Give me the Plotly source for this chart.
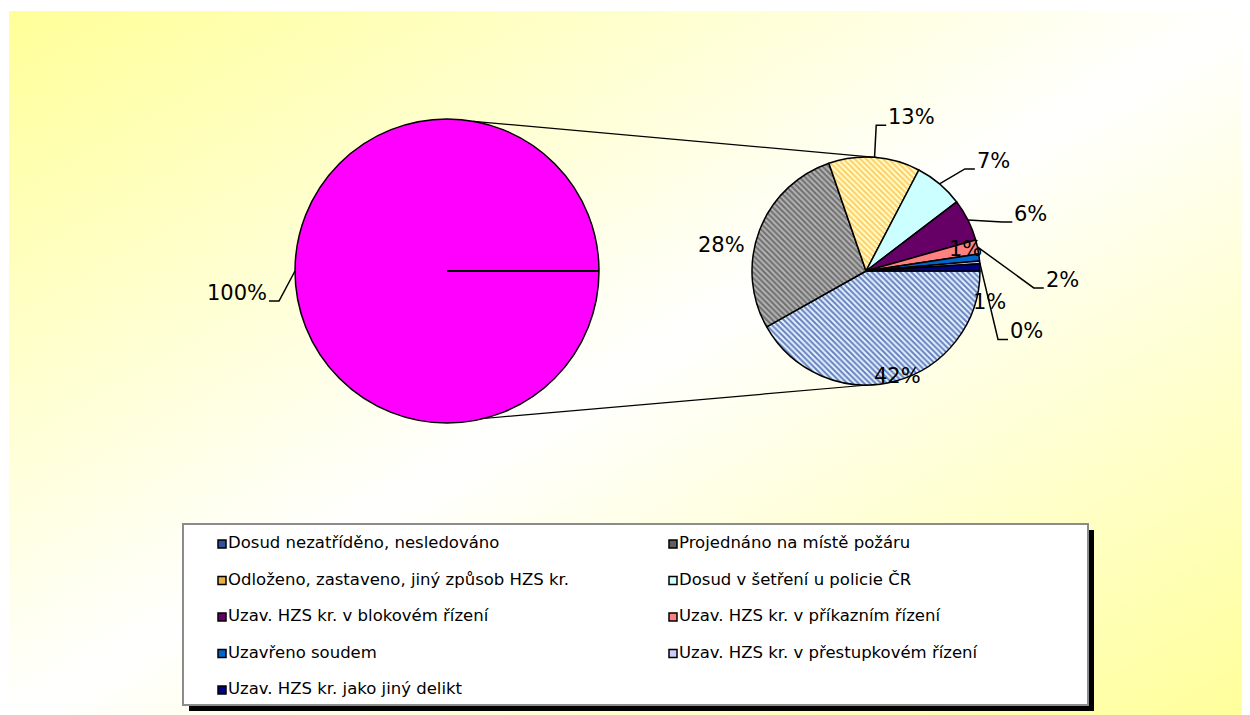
import math
import base64
import plotly.graph_objects as go

# ---------------- data ----------------
categories = [
    "Dosud nezatříděno, nesledováno",
    "Projednáno na místě požáru",
    "Odloženo, zastaveno, jiný způsob HZS kr.",
    "Dosud v šetření u policie ČR",
    "Uzav. HZS kr. v blokovém řízení",
    "Uzav. HZS kr. v příkazním řízení",
    "Uzavřeno soudem",
    "Uzav. HZS kr. v přestupkovém řízení",
    "Uzav. HZS kr. jako jiný delikt",
]
values = [42, 28, 13, 7, 6, 2, 1, 0.4, 1]
big_pie_label = "Celkem"

# ---------------- styles ----------------
W, H = 1250, 715
PAGE_OFF = 8  # page body margin around the figure
LABEL_FONT = "DejaVu Sans, sans-serif"
LEGEND_FONT = "DejaVu Sans, sans-serif"
slice_colors = ["#DDF8FF", "#B4B4B4", "#FFFFCC", "#CCFFFF", "#660066",
                "#FF8080", "#0066CC", "#CCCCFF", "#000080"]
pattern_shapes = ["\\", "\\", "\\", "", "", "", "", "", ""]
pattern_fg = ["#000080", "#282828", "#FF9900", "#000000", "#000000",
              "#000000", "#000000", "#000000", "#000000"]
legend_marker_colors = ["#3050A0", "#606060", "#E8B040", "#CCFFFF", "#660066",
                        "#FF8080", "#0066CC", "#CCCCFF", "#000080"]
BIG_COLOR = "#FF00FF"

BIG_C, BIG_R = (447, 271), 152
SMALL_C, SMALL_R = (866, 271), 114

# label offsets (px) relative to slice mid-angle anchor, and leader flags
label_offsets = [(3, -5), (-38, 14), (37, -40), (54, -23), (63, -6),
                 (85, 33), (-14, -8), (47, 69), (10, 35)]
label_leader = [False, False, True, True, True, True, False, True, False]
big_label_offset = (-58, 22)
LABEL_FS = 21


def px(x):
    return (x - PAGE_OFF) / W


def py(y):
    return 1 - (y - PAGE_OFF) / H


def pie_domain(c, r):
    return dict(x=[px(c[0] - r), px(c[0] + r)], y=[py(c[1] + r), py(c[1] - r)])


def text_w(s, fs):
    w = 0
    for ch in s:
        w += 0.95 if ch == "%" else 0.636
    return w * fs


fig = go.Figure()

# big pie (everything is split into the second pie)
total = sum(values)
fig.add_trace(go.Pie(
    labels=[big_pie_label], values=[total], sort=False,
    domain=pie_domain(BIG_C, BIG_R), textinfo="none", showlegend=False,
    hoverinfo="skip",
    marker=dict(colors=[BIG_COLOR], line=dict(color="black", width=1.5)),
))

# small pie
fig.add_trace(go.Pie(
    labels=categories, values=values, sort=False, direction="clockwise",
    rotation=90, domain=pie_domain(SMALL_C, SMALL_R), textinfo="none",
    showlegend=False, hoverinfo="label+percent",
    marker=dict(colors=slice_colors, line=dict(color="black", width=1.5),
                pattern=dict(shape=pattern_shapes, fgcolor=pattern_fg, size=4,
                             solidity=0.5, fillmode="overlay")),
))

shapes = []
annotations = []


def add_label(text, anchor, off, leader):
    lx, ly = anchor[0] + off[0], anchor[1] + off[1]
    annotations.append(dict(x=px(lx), y=py(ly), xref="paper", yref="paper",
                            xanchor="center", yanchor="middle",
                            text=text, showarrow=False,
                            font=dict(family=LABEL_FONT, size=LABEL_FS, color="black")))
    if leader:
        side = 1 if off[0] > 0 else -1
        hw = text_w(text, LABEL_FS) / 2
        ex, ey = lx - side * (hw + 2), ly + 8
        bx = ex - side * 10
        shapes.append(dict(type="path", xref="paper", yref="paper",
                           path=f"M {px(anchor[0])} {py(anchor[1])} L {px(bx)} {py(ey)} L {px(ex)} {py(ey)}",
                           line=dict(color="black", width=1.5), layer="above"))


# small pie labels
cum = 0
for i, v in enumerate(values):
    mid = (cum + v / 2) / total * 360
    cum += v
    a = math.radians(-mid)
    anchor = (SMALL_C[0] + SMALL_R * math.cos(a), SMALL_C[1] - SMALL_R * math.sin(a))
    pct = f"{round(v / total * 100)}%"
    add_label(pct, anchor, label_offsets[i], label_leader[i])

# big pie label
add_label(f"{round(total / total * 100)}%", (BIG_C[0] - BIG_R, BIG_C[1]), big_label_offset, True)

# radial line in big pie (slice boundary at 3 o'clock)
shapes.append(dict(type="line", xref="paper", yref="paper",
                   x0=px(BIG_C[0]), y0=py(BIG_C[1]), x1=px(BIG_C[0] + BIG_R), y1=py(BIG_C[1]),
                   line=dict(color="black", width=2), layer="above"))


def on_circle(c, r, deg):
    a = math.radians(deg)
    return (c[0] + r * math.cos(a), c[1] - r * math.sin(a))


for a_big, a_small in [(80, 84), (-76, -89)]:
    p0 = on_circle(BIG_C, BIG_R, a_big)
    p1 = on_circle(SMALL_C, SMALL_R, a_small)
    shapes.append(dict(type="line", xref="paper", yref="paper",
                       x0=px(p0[0]), y0=py(p0[1]), x1=px(p1[0]), y1=py(p1[1]),
                       line=dict(color="black", width=1.2), layer="above"))

# legend box with shadow
LB = (183, 524, 1088, 705)
SH = 6
shapes.append(dict(type="rect", xref="paper", yref="paper",
                   x0=px(LB[0] + SH), y0=py(LB[3] + SH), x1=px(LB[2] + SH), y1=py(LB[1] + SH),
                   fillcolor="black", line=dict(width=0), layer="below"))
shapes.append(dict(type="rect", xref="paper", yref="paper",
                   x0=px(LB[0]), y0=py(LB[3]), x1=px(LB[2]), y1=py(LB[1]),
                   fillcolor="white", line=dict(color="#8C8C8C", width=2), layer="below"))

# legend entries as a scatter on hidden axes (2 columns, row-wise)
COL_X = (222, 673)
ROW_Y0, ROW_DY = 544, 36.5
leg_col = [i % 2 for i in range(len(categories))]
leg_row = [i // 2 for i in range(len(categories))]
x_unit = COL_X[1] - COL_X[0]
fig.add_trace(go.Scatter(
    x=leg_col, y=leg_row, mode="markers+text", text=categories,
    textposition="middle right", hoverinfo="skip", showlegend=False,
    textfont=dict(family=LEGEND_FONT, size=16.5, color="black"),
    marker=dict(symbol="square", size=8, color=legend_marker_colors,
                line=dict(color="black", width=1.5)),
    cliponaxis=False,
))

# background gradient
svg = ('<svg xmlns="http://www.w3.org/2000/svg" width="1241" height="704" '
       'viewBox="0 0 1241 704" preserveAspectRatio="none"><defs>'
       '<linearGradient id="g" x1="0" y1="0" x2="1" y2="1">'
       '<stop offset="0" stop-color="#FFFF99"/><stop offset="0.5" stop-color="#FFFFFF"/>'
       '<stop offset="1" stop-color="#FFFF99"/></linearGradient></defs>'
       '<rect width="1241" height="704" fill="url(#g)"/></svg>')
src = "data:image/svg+xml;base64," + base64.b64encode(svg.encode()).decode()

fig.update_layout(
    width=W, height=H, margin=dict(l=0, r=0, t=0, b=0),
    paper_bgcolor="white", plot_bgcolor="rgba(0,0,0,0)",
    shapes=shapes, annotations=annotations,
    images=[dict(source=src, xref="paper", yref="paper", x=px(9), y=py(11),
                 sizex=1245 / W, sizey=712 / H, xanchor="left", yanchor="top",
                 sizing="stretch", layer="below")],
    xaxis=dict(visible=False,
               range=[(PAGE_OFF - COL_X[0]) / x_unit, (W + PAGE_OFF - COL_X[0]) / x_unit],
               domain=[0, 1], fixedrange=True),
    yaxis=dict(visible=False,
               range=[(H + PAGE_OFF - ROW_Y0) / ROW_DY, (PAGE_OFF - ROW_Y0) / ROW_DY],
               domain=[0, 1], fixedrange=True),
    showlegend=False,
)

fig.write_html("out.html")
